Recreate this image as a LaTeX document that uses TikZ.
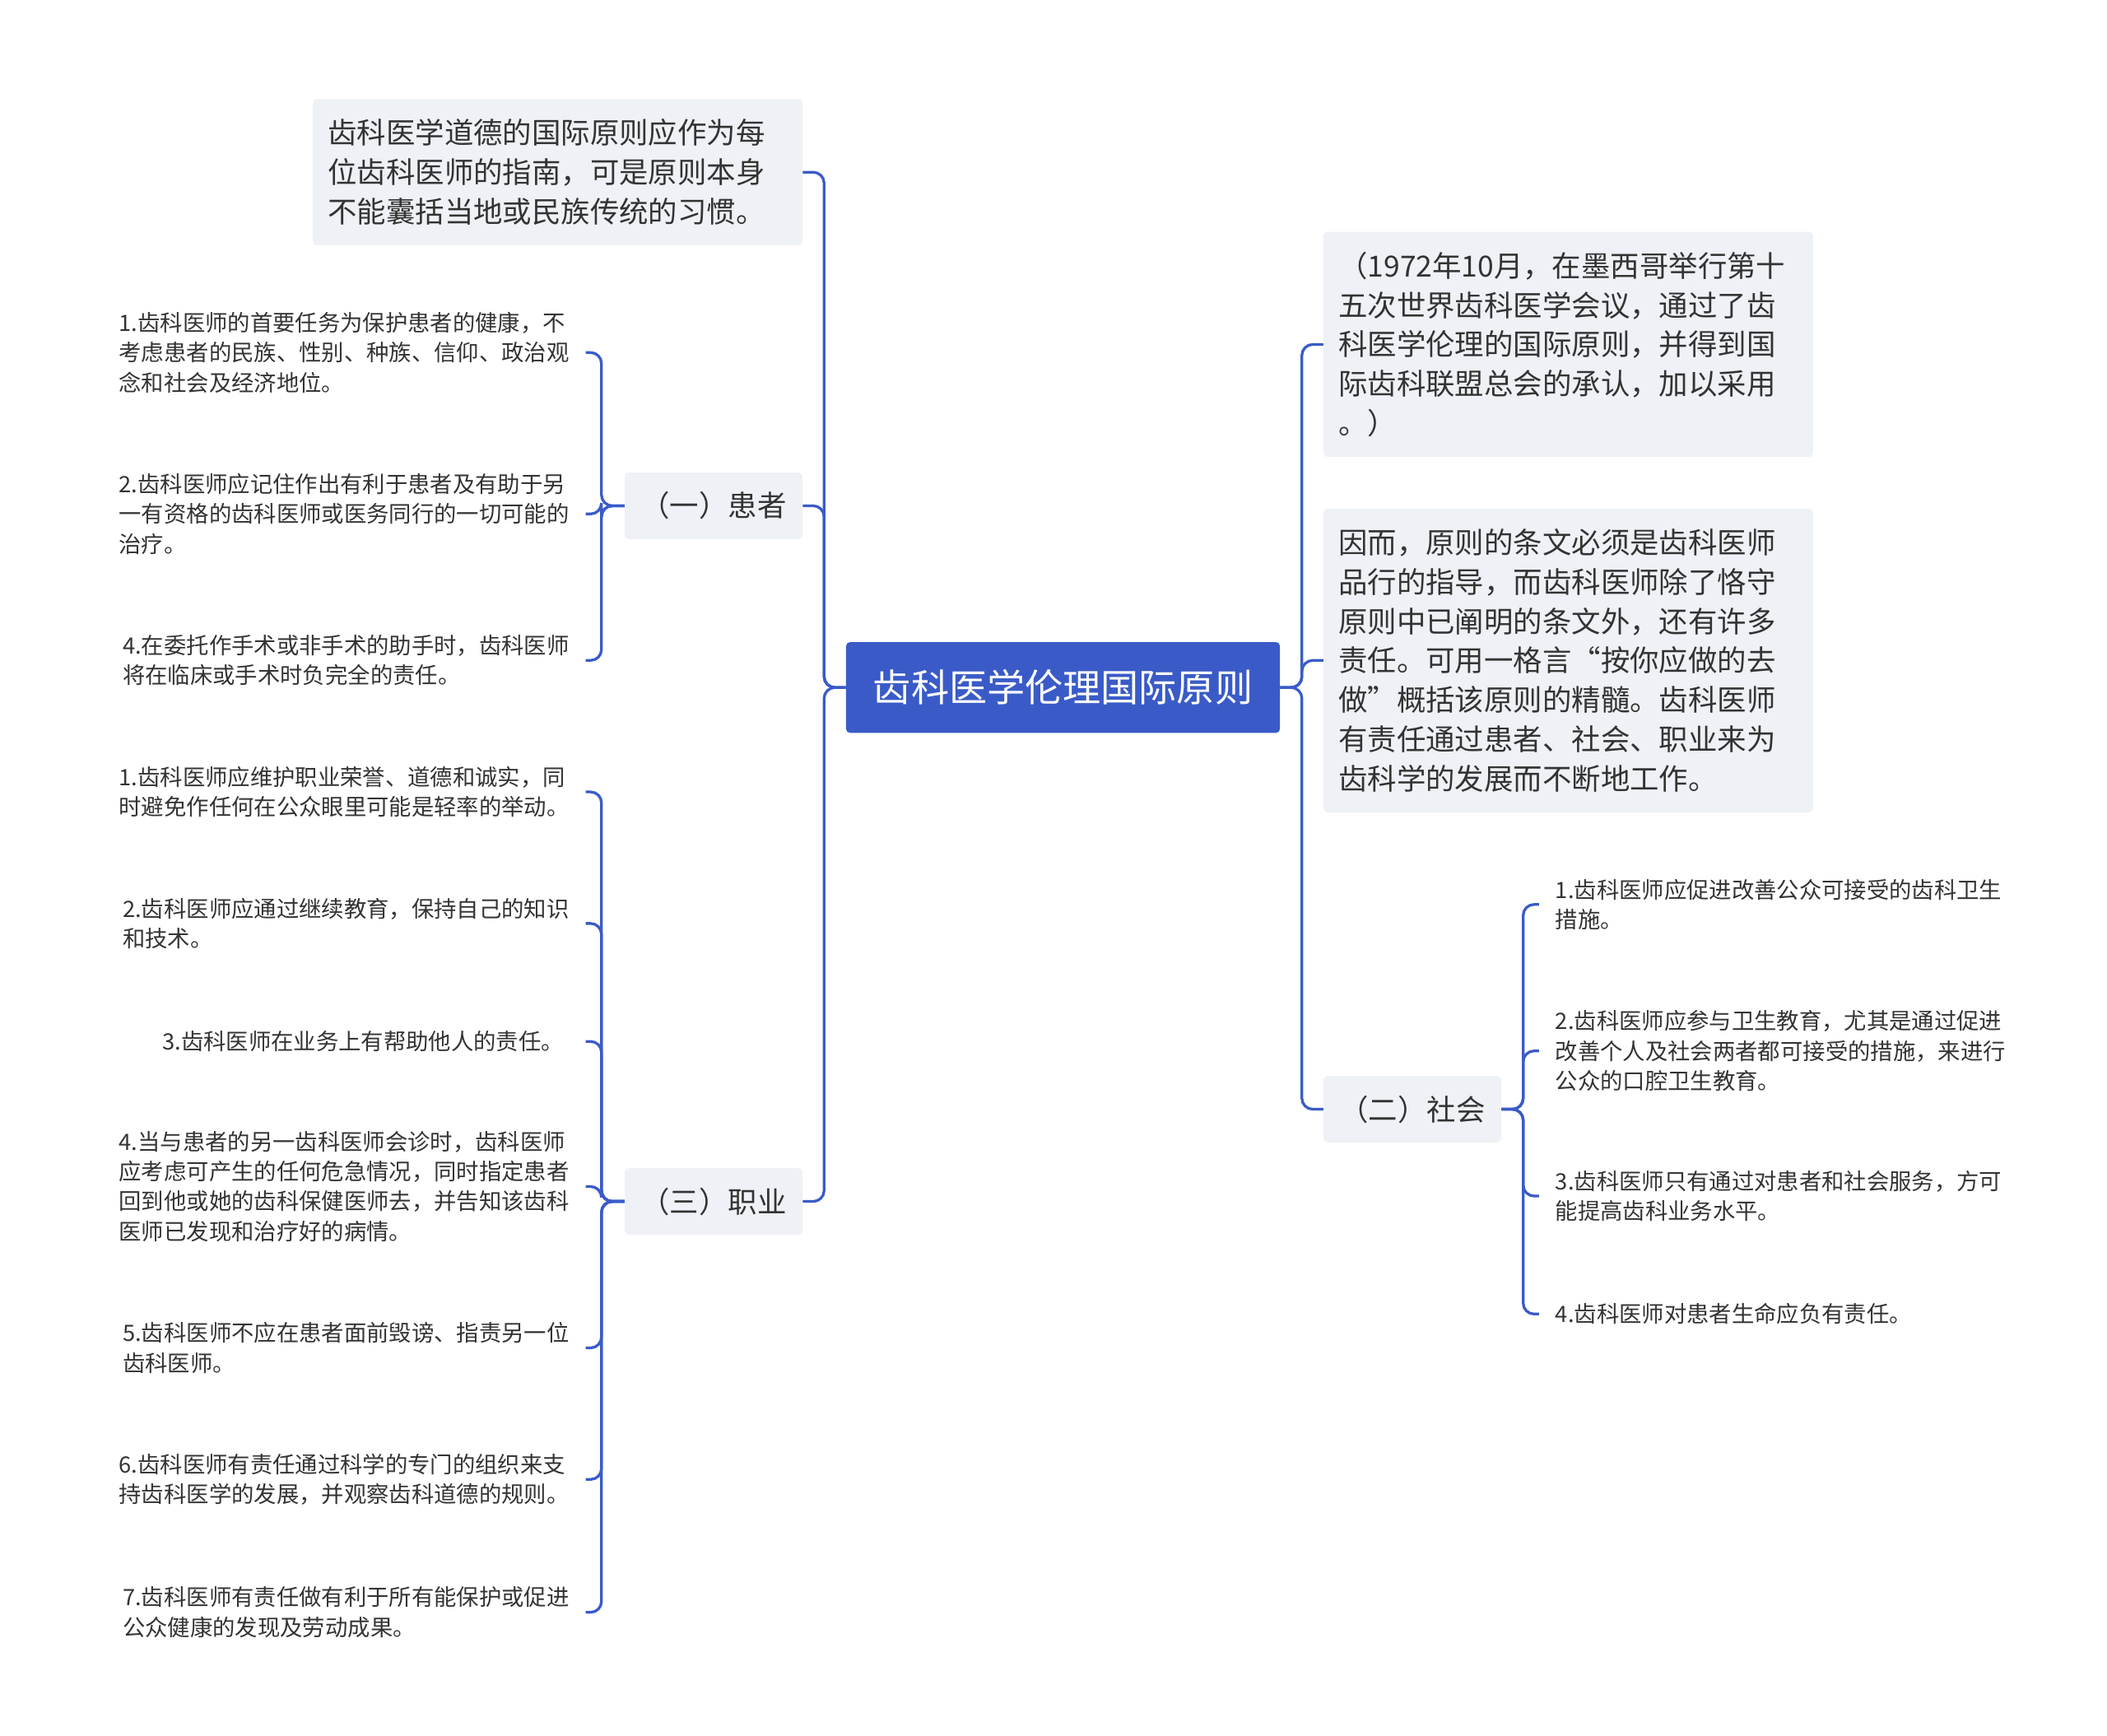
\documentclass[tikz,border=0pt]{standalone}
\usepackage{fontspec}
\setmainfont{Noto Sans CJK SC}
\usetikzlibrary{positioning}
\definecolor{linkblue}{HTML}{3A5BC7}
\definecolor{boxgrey}{HTML}{EEF1F5}
\definecolor{txt}{HTML}{333333}
\tikzset{
  rootbox/.style={rectangle, fill=linkblue, text=white, rounded corners=3pt,
    font=\fontsize{28}{34}\selectfont, minimum width=320pt, minimum height=67pt},
  greybox/.style={rectangle, fill=boxgrey, text=txt, rounded corners=3pt, align=left,
    font=\fontsize{21.5}{29}\selectfont, inner xsep=11pt, inner ysep=9pt},
  catbox/.style={greybox, align=center, minimum width=131pt, minimum height=49pt},
  leaf/.style={text=txt, align=left, font=\fontsize{16.6}{22}\selectfont, inner sep=0pt},
  link/.style={draw=linkblue, line width=2pt, rounded corners=8pt}
}
\begin{document}
\begin{tikzpicture}[x=1pt,y=-1pt]
\useasboundingbox (0,0) rectangle (1554,1280);
% centre
\node [rootbox] (root) at (784,507) {齿科医学伦理国际原则};
% left side
\node [greybox, anchor=east, minimum height=108pt, minimum width=361pt, text width=339pt] (guide) at (592,127)
  {齿科医学道德的国际原则应作为每\\位齿科医师的指南，可是原则本身\\不能囊括当地或民族传统的习惯。};
\node [catbox, anchor=east] (patient) at (592,373) {（一）患者};
\node [catbox, anchor=east] (career) at (592,886) {（三）职业};
% right side
\node [greybox, anchor=west, minimum height=166pt, minimum width=361pt, text width=339pt] (history) at (976,254)
  {（1972年10月，在墨西哥举行第十\\五次世界齿科医学会议，通过了齿\\科医学伦理的国际原则，并得到国\\际齿科联盟总会的承认，加以采用\\。）};
\node [greybox, anchor=west, minimum height=224pt, minimum width=361pt, text width=339pt] (motto) at (976,487)
  {因而，原则的条文必须是齿科医师\\品行的指导，而齿科医师除了恪守\\原则中已阐明的条文外，还有许多\\责任。可用一格言“按你应做的去\\做”概括该原则的精髓。齿科医师\\有责任通过患者、社会、职业来为\\齿科学的发展而不断地工作。};
\node [catbox, anchor=west] (society) at (976,818) {（二）社会};

% patient leaves
\node [leaf, anchor=east] (p1) at (420,260) {1.齿科医师的首要任务为保护患者的健康，不\\考虑患者的民族、性别、种族、信仰、政治观\\念和社会及经济地位。};
\node [leaf, anchor=east] (p2) at (420,379) {2.齿科医师应记住作出有利于患者及有助于另\\一有资格的齿科医师或医务同行的一切可能的\\治疗。};
\node [leaf, anchor=east] (p3) at (420,487) {4.在委托作手术或非手术的助手时，齿科医师\\将在临床或手术时负完全的责任。};

% career leaves
\node [leaf, anchor=east] (c1) at (420,584) {1.齿科医师应维护职业荣誉、道德和诚实，同\\时避免作任何在公众眼里可能是轻率的举动。};
\node [leaf, anchor=east] (c2) at (420,681) {2.齿科医师应通过继续教育，保持自己的知识\\和技术。};
\node [leaf, anchor=east] (c3) at (416,768) {3.齿科医师在业务上有帮助他人的责任。};
\node [leaf, anchor=east] (c4) at (420,875) {4.当与患者的另一齿科医师会诊时，齿科医师\\应考虑可产生的任何危急情况，同时指定患者\\回到他或她的齿科保健医师去，并告知该齿科\\医师已发现和治疗好的病情。};
\node [leaf, anchor=east] (c5) at (420,994) {5.齿科医师不应在患者面前毁谤、指责另一位\\齿科医师。};
\node [leaf, anchor=east] (c6) at (420,1091) {6.齿科医师有责任通过科学的专门的组织来支\\持齿科医学的发展，并观察齿科道德的规则。};
\node [leaf, anchor=east] (c7) at (420,1189) {7.齿科医师有责任做有利于所有能保护或促进\\公众健康的发现及劳动成果。};

% society leaves
\node [leaf, anchor=west] (s1) at (1147,667) {1.齿科医师应促进改善公众可接受的齿科卫生\\措施。};
\node [leaf, anchor=west] (s2) at (1147,775) {2.齿科医师应参与卫生教育，尤其是通过促进\\改善个人及社会两者都可接受的措施，来进行\\公众的口腔卫生教育。};
\node [leaf, anchor=west] (s3) at (1147,882) {3.齿科医师只有通过对患者和社会服务，方可\\能提高齿科业务水平。};
\node [leaf, anchor=west] (s4) at (1147,969) {4.齿科医师对患者生命应负有责任。};

% links
\foreach \c in {guide,patient,career}
  \draw [link] (root.west) -- ++(-16,0) |- (\c.east);
\foreach \c in {history,motto,society}
  \draw [link] (root.east) -- ++(16,0) |- (\c.west);
\foreach \l in {p1,p2,p3}
  \draw [link] (patient.west) -- ++(-17,0) |- ([xshift=12pt]\l.east);
\foreach \l/\s in {c1/12,c2/12,c3/16,c4/12,c5/12,c6/12,c7/12}
  \draw [link] (career.west) -- ++(-17,0) |- ([xshift=\s pt]\l.east);
\foreach \l in {s1,s2,s3,s4}
  \draw [link] (society.east) -- ++(16,0) |- ([xshift=-12pt]\l.west);
\end{tikzpicture}
\end{document}
